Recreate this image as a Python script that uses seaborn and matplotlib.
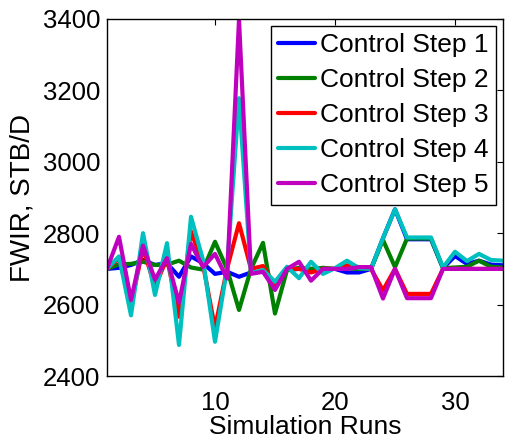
import matplotlib
matplotlib.use("Agg")
import matplotlib.pyplot as plt
import seaborn as sns
import pandas as pd
import numpy as np

runs = list(range(1, 35))

step1 = [2700, 2703, 2711, 2725, 2711, 2716, 2678, 2735, 2716, 2686,
         2692, 2678, 2690, 2692, 2655, 2697, 2700, 2700, 2700, 2700,
         2690, 2690, 2700, 2786, 2867, 2783, 2783, 2783, 2702, 2736,
         2714, 2723, 2712, 2710]
step2 = [2700, 2713, 2714, 2720, 2711, 2712, 2723, 2704, 2698, 2776,
         2700, 2585, 2700, 2773, 2575, 2697, 2703, 2700, 2703, 2700,
         2702, 2700, 2700, 2781, 2705, 2785, 2785, 2785, 2702, 2704,
         2706, 2723, 2706, 2704]
step3 = [2700, 2730, 2600, 2758, 2650, 2730, 2566, 2805, 2712, 2534,
         2700, 2828, 2700, 2708, 2655, 2700, 2700, 2690, 2700, 2700,
         2710, 2705, 2700, 2640, 2700, 2630, 2630, 2630, 2700, 2700,
         2700, 2700, 2700, 2700]
step4 = [2700, 2735, 2570, 2800, 2627, 2772, 2487, 2846, 2725, 2496,
         2700, 3178, 2688, 2697, 2664, 2706, 2674, 2720, 2686, 2702,
         2723, 2702, 2700, 2786, 2867, 2788, 2788, 2788, 2704, 2748,
         2722, 2742, 2725, 2723]
step5 = [2700, 2790, 2613, 2765, 2670, 2730, 2605, 2770, 2705, 2742,
         2673, 3398, 2686, 2692, 2641, 2700, 2720, 2667, 2700, 2700,
         2700, 2705, 2705, 2617, 2700, 2618, 2618, 2618, 2700, 2700,
         2700, 2700, 2700, 2700]

labels = ["Control Step 1", "Control Step 2", "Control Step 3",
          "Control Step 4", "Control Step 5"]
colors = ["#0000ff", "#008000", "#ff0000", "#00bfbf", "#bf00bf"]

frames = []
for lab, vals in zip(labels, [step1, step2, step3, step4, step5]):
    frames.append(pd.DataFrame({"run": runs, "fwir": vals, "step": lab}))
df = pd.concat(frames, ignore_index=True)

sns.set_style("white")
plt.rcParams["font.family"] = ["Liberation Sans", "DejaVu Sans"]
plt.rcParams["text.color"] = "black"
plt.rcParams["axes.labelcolor"] = "black"

fig = plt.figure(figsize=(5.05, 4.41), dpi=100)
ax = fig.add_axes([107 / 505, 1 - 376 / 441, (503 - 107) / 505, (376 - 19) / 441])

sns.lineplot(data=df, x="run", y="fwir", hue="step", hue_order=labels,
             palette=colors, linewidth=3, ax=ax, legend=True)

ax.set_xlim(1, 34)
ax.set_ylim(2400, 3400)
ax.set_xticks([10, 20, 30])
ax.set_yticks([2400, 2600, 2800, 3000, 3200, 3400])
ax.tick_params(direction="in", length=4, width=0.8, top=True, right=True,
               labelsize=18.5, colors="black")
ax.tick_params(axis="x", pad=11)
ax.tick_params(axis="y", pad=5)
for s in ax.spines.values():
    s.set_color("black")
    s.set_linewidth(1.0)
ax.set_xlabel("Simulation Runs", fontsize=19, labelpad=0)
ax.set_ylabel("FWIR, STB/D", fontsize=20)
ax.yaxis.set_label_coords(-0.18, 0.5)

leg = ax.legend(loc="upper right", fontsize=19, frameon=True, fancybox=False,
                edgecolor="black", framealpha=1, borderaxespad=0.25,
                handlelength=1.4, handletextpad=0.2, labelspacing=0.42,
                borderpad=0.28)
leg.get_frame().set_linewidth(1.0)
for h in leg.get_lines():
    h.set_linewidth(3)

fig.savefig("out.png", dpi=100)
